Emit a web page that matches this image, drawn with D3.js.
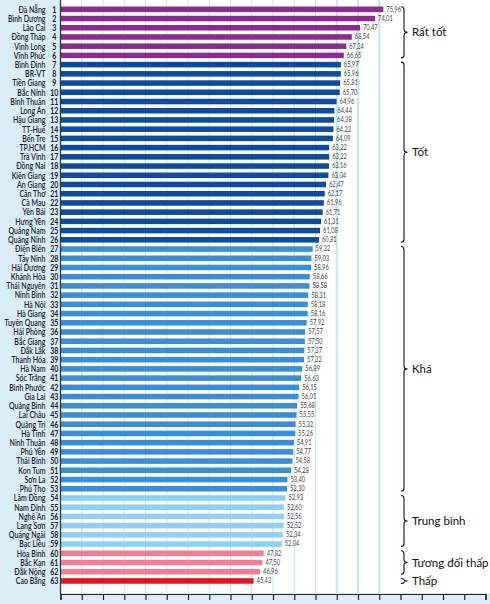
<!DOCTYPE html>
<html><head><meta charset="utf-8">
<script src="https://cdn.jsdelivr.net/npm/d3@7"></script>
<style>
html,body{margin:0;padding:0;background:#d9eef9;}
svg{display:block;}
</style></head>
<body>
<svg id="chart" width="490" height="604"></svg>
<script>
const provinces = ["Đà Nẵng","Bình Dương","Lào Cai","Đồng Tháp","Vĩnh Long","Vĩnh Phúc",
"Bình Định","BR-VT","Tiền Giang","Bắc Ninh","Bình Thuận","Long An","Hậu Giang","TT-Huế","Bến Tre","TP.HCM","Trà Vinh","Đồng Nai","Kiên Giang","An Giang","Cần Thơ","Cà Mau","Yên Bái","Hưng Yên","Quảng Nam","Quảng Ninh",
"Điện Biên","Tây Ninh","Hải Dương","Khánh Hòa","Thái Nguyên","Ninh Bình","Hà Nội","Hà Giang","Tuyên Quang","Hải Phòng","Bắc Giang","Đắk Lắk","Thanh Hóa","Hà Nam","Sóc Trăng","Bình Phước","Gia Lai","Quảng Bình","Lai Châu","Quảng Trị","Hà Tĩnh","Ninh Thuận","Phú Yên","Thái Bình","Kon Tum","Sơn La","Phú Thọ",
"Lâm Đồng","Nam Định","Nghệ An","Lạng Sơn","Quảng Ngãi","Bạc Liêu",
"Hòa Bình","Bắc Kạn","Đắk Nông",
"Cao Bằng"];
const values = [75.96,74.01,70.47,68.54,67.24,66.65,
65.97,65.96,65.81,65.70,64.96,64.44,64.38,64.23,64.09,63.22,63.22,63.16,63.04,62.47,62.17,61.96,61.71,61.31,61.08,60.81,
59.32,59.03,58.96,58.66,58.58,58.31,58.18,58.16,57.92,57.57,57.50,57.37,57.32,56.89,56.63,56.15,56.01,55.68,55.55,55.32,55.26,54.91,54.77,54.58,54.28,53.40,53.30,
52.93,52.60,52.56,52.52,52.34,52.04,
47.82,47.50,46.96,
45.43];
const groupNames = ["Rất tốt","Tốt","Khá","Trung bình","Tương đối thấp","Thấp"];
const groupSizes = [6,20,27,6,3,1];
const groupColors = ["#8c2a8e","#0d4b9c","#3a8ed5","#8dd0f3","#f07f94","#e4141f"];
const xTicks = d3.range(0,101,5);
const gridTicks = d3.range(5,76,5);

const svg = d3.select("#chart");
const font = "Lato, 'Open Sans', sans-serif";

const rows = provinces.map((p,i)=>({rank:i+1,name:p,value:values[i]}));
let acc = 0;
const groups = groupNames.map((g,k)=>{const start=acc; acc+=groupSizes[k]; return {name:g,start:start,end:acc-1,color:groupColors[k]};});
groups.forEach((g,k)=>{for(let i=g.start;i<=g.end;i++) rows[i].group=k;});

const x = d3.scaleLinear().domain([0,100]).range([60.5,485.5]);
const y = d3.scaleBand().domain(rows.map(d=>d.rank)).range([4.7,4.7+63*9.22]).paddingInner(0.4).paddingOuter(0.2);
const yc = r => y(r)+y.bandwidth()/2;

svg.append("rect").attr("x",60).attr("y",0).attr("width",430).attr("height",593).attr("fill","#ffffff");

svg.append("g").selectAll("line").data(gridTicks).join("line")
  .attr("x1",d=>x(d)).attr("x2",d=>x(d)).attr("y1",0).attr("y2",593)
  .attr("stroke","#c6e4f5").attr("stroke-width",d=>d>=65?2:1);

svg.append("g").selectAll("rect").data(rows).join("rect")
  .attr("x",x(0)).attr("y",d=>y(d.rank)).attr("width",d=>x(d.value)-x(0)).attr("height",y.bandwidth())
  .attr("fill",d=>groupColors[d.group]);

svg.append("g").selectAll("text").data(rows).join("text")
  .attr("transform",d=>`translate(${x(d.value)+3},${yc(d.rank)}) scale(0.85,1)`).attr("dy","0.35em")
  .attr("font-family",font).attr("font-size",6.8).attr("fill","#444")
  .text(d=>d3.format(".2f")(d.value).replace(".",","));

svg.append("g").selectAll("text").data(rows).join("text")
  .attr("transform",d=>`translate(45.5,${yc(d.rank)}) scale(0.74,1)`).attr("dy","0.35em").attr("text-anchor","end")
  .attr("font-family",font).attr("font-size",9.5).attr("font-weight",600).attr("fill","#1a1a2a")
  .text(d=>d.name);

svg.append("g").selectAll("text").data(rows).join("text")
  .attr("transform",d=>`translate(54.3,${yc(d.rank)}) scale(0.74,1)`).attr("dy","0.35em").attr("text-anchor","middle")
  .attr("font-family",font).attr("font-size",9.5).attr("font-weight",700).attr("fill","#1a1a2a")
  .text(d=>d.rank);

svg.append("line").attr("x1",60.5).attr("x2",60.5).attr("y1",0).attr("y2",594).attr("stroke","#333").attr("stroke-width",1.3);

const xAxis = d3.axisBottom(x).tickValues(xTicks).tickSize(6).tickFormat("");
const ax = svg.append("g").attr("transform","translate(0,594)").call(xAxis);
ax.select(".domain").attr("stroke","#222").attr("stroke-width",1.2);
ax.selectAll(".tick line").attr("stroke","#222").attr("stroke-width",1.2);

const bx = 404;
const braceG = svg.append("g");
groups.forEach(g=>{
  const y0 = yc(g.start+1)-2.5, y1 = yc(g.end+1)+2.5, m = (y0+y1)/2;
  const c = Math.min(3,(y1-y0)/4);
  const path = `M${bx-3},${y0} Q${bx},${y0} ${bx},${y0+c} L${bx},${m-c} Q${bx},${m} ${bx+3.5},${m} Q${bx},${m} ${bx},${m+c} L${bx},${y1-c} Q${bx},${y1} ${bx-3},${y1}`;
  braceG.append("path").attr("d",path).attr("fill","none").attr("stroke","#111").attr("stroke-width",1.1);
  braceG.append("text").attr("x",412).attr("y",m).attr("dy","0.35em")
    .attr("font-family",font).attr("font-size",11.5).attr("fill","#111").text(g.name);
});
</script>
</body></html>
